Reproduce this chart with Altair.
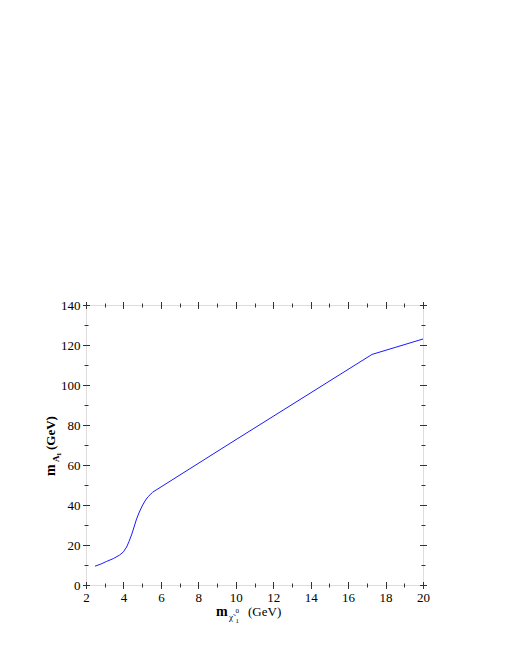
import altair as alt
import pandas as pd

# Data
mchi = [2.48, 2.8, 3.1, 3.46, 3.8, 4.0, 4.17, 4.3, 4.45, 4.55, 4.7, 4.85, 5.0, 5.15, 5.3, 5.56, 9.69, 17.28, 20.0]
mA1 = [9.4, 10.5, 11.8, 13.2, 15.0, 16.6, 19.0, 21.8, 25.5, 28.5, 33.0, 36.5, 39.5, 42.0, 44.0, 46.4, 70.8, 115.3, 123.0]

x_major = [2, 4, 6, 8, 10, 12, 14, 16, 18, 20]
x_minor = [3, 5, 7, 9, 11, 13, 15, 17, 19]
y_major = [0, 20, 40, 60, 80, 100, 120, 140]
y_minor = [10, 30, 50, 70, 90, 110, 130]

df = pd.DataFrame({"mchi": mchi, "mA1": mA1})

FONT = "Liberation Serif"
TICK = "#333333"
xs = alt.Scale(domain=[2, 20], nice=False, zero=False)
ys = alt.Scale(domain=[0, 140], nice=False, zero=False)


def ax(orient, values, major, labels):
    size = 7 if major else 4
    return alt.Axis(orient=orient, values=values, labels=labels, domain=False, grid=False,
                    tickSize=size, offset=-size / 2, tickColor=TICK, tickWidth=1,
                    labelFont=FONT, labelFontSize=13, labelColor="black",
                    labelPadding=3 if orient == "bottom" else 2.5, title=None,
                    labelFlush=False, labelOverlap=False)


def layer(xaxis, yaxis, visible):
    return alt.Chart(df).mark_line(color="#1a1aff", strokeWidth=1,
                                   strokeOpacity=1 if visible else 0).encode(
        x=alt.X("mchi:Q", scale=xs, axis=xaxis),
        y=alt.Y("mA1:Q", scale=ys, axis=yaxis),
        order="mchi:Q",
    )


l1 = layer(ax("bottom", x_major, True, True), ax("left", y_major, True, True), True)
l2 = layer(ax("bottom", x_minor, False, False), ax("left", y_minor, False, False), False)
l3 = layer(ax("top", x_major, True, False), ax("right", y_major, True, False), False)
l4 = layer(ax("top", x_minor, False, False), ax("right", y_minor, False, False), False)

dummy = pd.DataFrame({"a": [0]})


def txt(t, x, y, size, bold=False, angle=0, align="left"):
    kw = dict(text=t, font=FONT, fontSize=size, fontWeight="bold" if bold else "normal",
              align=align, baseline="alphabetic", color="black")
    if angle:
        kw["angle"] = angle
    return alt.Chart(dummy).mark_text(**kw).encode(x=alt.value(x), y=alt.value(y))


# x-axis title: m_{chi~_1^0} (GeV)
xt = [
    txt("m", 130, 311, 14, bold=True),
    txt("χ̃", 143, 315, 9),
    txt("0", 149.5, 308, 7),
    txt("1", 149.5, 317.5, 7),
    txt("(GeV)", 162, 311, 13),
]
# y-axis title: m_{A_1}(GeV)
yt = [
    txt("m", -31, 171, 14, bold=True, angle=270),
    txt("A", -27.5, 157, 9, bold=True, angle=270),
    txt("1", -25, 151, 7, bold=True, angle=270),
    txt("(GeV)", -31, 145, 13, bold=True, angle=270),
]

chart = alt.layer(l1, l2, l3, l4, *xt, *yt).resolve_axis(x="independent", y="independent").properties(
    width=337, height=280,
    autosize=alt.AutoSizeParams(type="none"),
    padding={"left": 78, "top": 297, "right": 70, "bottom": 50},
).configure_view(stroke="#555555", strokeWidth=1).configure(background="white")

chart.save("out.html", embed_options={"renderer": "svg", "actions": False})
